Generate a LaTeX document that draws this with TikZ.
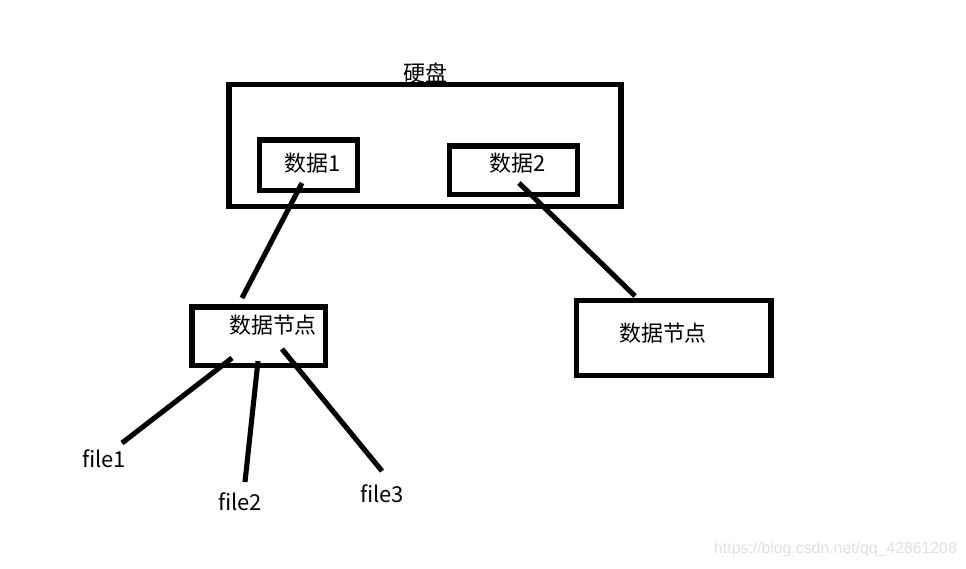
\documentclass[tikz,border=0pt]{standalone}
\usepackage{fontspec}
\setmainfont{Noto Sans CJK SC}
\newfontfamily\wmfont{Liberation Sans}
\usepackage{tikz}
\usetikzlibrary{positioning}

\tikzset{
  box/.style={draw, line width=2.9pt, minimum width=#1, inner sep=0pt},
  lbl/.style={font=\fontsize{12.5}{14}\selectfont, inner sep=0pt},
  wire/.style={line width=2.9pt}
}

\begin{document}
\begin{tikzpicture}[x=0.02cm, y=-0.02cm]
  \useasboundingbox[fill=white] (0,0) rectangle (966,568);

  % Disco
  \node[box=7.84cm, minimum height=2.44cm] (disk) at (425,145.5) {};
  \node[lbl] (disklbl) at (425,73) {硬盘};

  % Blocchi dati
  \node[box=1.96cm, minimum height=1.01cm] (d1) at (308.5,165.2) {};
  \node[lbl] (d1lbl) at (313,163) {数据1};
  \node[box=2.56cm, minimum height=0.97cm] (d2) at (513.5,170.2) {};
  \node[lbl] (d2lbl) at (518,163) {数据2};

  % Nodi dati
  \node[box=2.67cm, minimum height=1.17cm] (n1) at (258.75,336.2) {};
  \node[lbl] (n1lbl) at (273,325) {数据节点};
  \node[box=3.89cm, minimum height=1.5cm] (n2) at (673.75,338) {};
  \node[lbl] (n2lbl) at (663,333) {数据节点};

  % File
  \node[lbl] (f1) at (104,459) {file1};
  \node[lbl] (f2) at (240,502) {file2};
  \node[lbl] (f3) at (382,494) {file3};

  % Estremi delle linee
  \coordinate (d1out) at (302,183);
  \coordinate (n1in) at (242,298);
  \coordinate (d2out) at (519,183);
  \coordinate (n2in) at (635,296);
  \coordinate (n1a) at (232,358);
  \coordinate (n1b) at (258,361);
  \coordinate (n1c) at (282,349);
  \coordinate (f1in) at (122,443);
  \coordinate (f2in) at (245,482);
  \coordinate (f3in) at (382,471);

  \draw[wire] (d1out) -- (n1in);
  \draw[wire] (d2out) -- (n2in);
  \draw[wire] (n1a) -- (f1in);
  \draw[wire] (n1b) -- (f2in);
  \draw[wire] (n1c) -- (f3in);

  % Filigrana
  \node[font=\wmfont\fontsize{9}{10}\selectfont, text=black!12, inner sep=0pt] (wm) at (835.5,549) {https://blog.csdn.net/qq\_42861208};
\end{tikzpicture}
\end{document}
